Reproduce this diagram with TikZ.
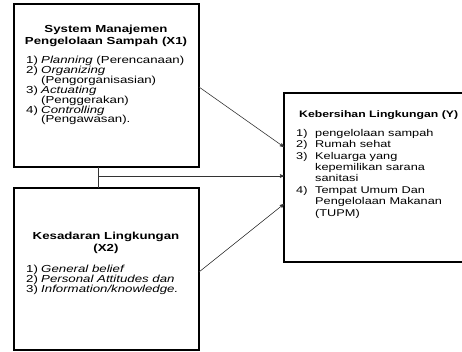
\documentclass[tikz,border=0pt]{standalone}
\usepackage{fontspec}
\setmainfont{Liberation Sans}[FakeStretch=1.3]
\usetikzlibrary{arrows}

\newcommand{\nomor}[1]{\makebox[15pt][l]{#1}}
\newcommand{\nomorY}[1]{\makebox[19pt][l]{#1}}

\begin{document}
\begin{tikzpicture}[x=1pt,y=-1pt,>=stealth',
  kotak/.style={draw,line width=1.6pt,inner sep=0pt,outer sep=0pt,anchor=north west},
  judul/.style={font=\fontsize{10.2}{12.3}\selectfont\bfseries,align=center,inner sep=0pt,anchor=north},
  isi/.style={font=\fontsize{10.2}{9.9}\selectfont,align=left,inner sep=0pt,anchor=north west},
  isiY/.style={font=\fontsize{9.8}{11.4}\selectfont,align=left,inner sep=0pt,anchor=north west},
  garis/.style={line width=0.6pt,black!80}]
\useasboundingbox (0,0) rectangle (462,351);
\clip (0,0) rectangle (462,351);

% kotak variabel
\node[kotak,minimum width=185pt,minimum height=163pt] (X1) at (14,4) {};
\node[kotak,minimum width=185pt,minimum height=162pt] (X2) at (14,188) {};
\node[kotak,minimum width=200pt,minimum height=169pt] (Y) at (284,93) {};

% teks X1
\node[judul] (jX1) at (106,25) {System Manajemen\\Pengelolaan Sampah (X1)};
\node[isi] (iX1) at (26,56) {\nomor{1)}\textit{Planning} (Perencanaan)\\
  \nomor{2)}\textit{Organizing}\\
  \hspace*{15pt}(Pengorganisasian)\\
  \nomor{3)}\textit{Actuating}\\
  \hspace*{15pt}(Penggerakan)\\
  \nomor{4)}\textit{Controlling}\\
  \hspace*{15pt}(Pengawasan).};

% teks X2
\node[judul] (jX2) at (106,232) {Kesadaran Lingkungan\\(X2)};
\node[isi] (iX2) at (26,265) {\nomor{1)}\textit{General belief}\\
  \nomor{2)}\textit{Personal Attitudes dan}\\
  \nomor{3)}\textit{Information/knowledge.}};

% teks Y
\node[isiY,font=\fontsize{9.4}{11.4}\selectfont\bfseries] (jY) at (299,110) {Kebersihan Lingkungan (Y)};
\node[isiY] (iY) at (296,129) {\nomorY{1)}pengelolaan sampah\\
  \nomorY{2)}Rumah sehat\\
  \nomorY{3)}Keluarga yang\\
  \hspace*{19pt}kepemilikan sarana\\
  \hspace*{19pt}sanitasi\\
  \nomorY{4)}Tempat Umum Dan\\
  \hspace*{19pt}Pengelolaan Makanan\\
  \hspace*{19pt}(TUPM)};

% hubungan
\coordinate (c1) at (X1.east |- 0,87);
\coordinate (c2) at (X2.east |- 0,272);
\coordinate (j) at (98,176);
\draw[garis,->] (c1) -- (Y.west |- 0,147);
\draw[garis,->] (c2) -- (Y.west |- 0,204);
\draw[garis] (j |- X1.south) -- (j |- X2.north);
\draw[garis,->] (j) -- (j -| Y.west);
\end{tikzpicture}
\end{document}
